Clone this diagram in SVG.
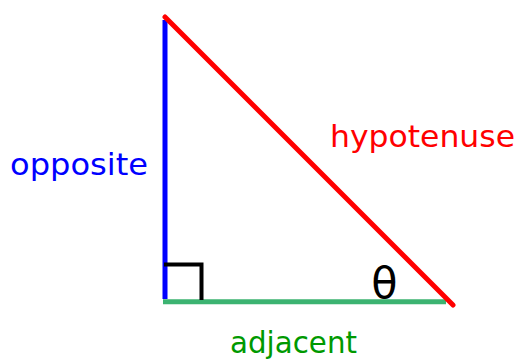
<svg xmlns="http://www.w3.org/2000/svg" width="524" height="360" viewBox="0 0 524 360">
<style>
.lbl{font-family:"DejaVu Sans","Liberation Sans",sans-serif;font-size:31px}
.side{stroke-width:5;fill:none}
</style>
<rect width="524" height="360" fill="#fff"/>
<g id="connectors">
<line id="opposite-side" class="side" x1="165" y1="20" x2="165" y2="299" stroke="#0000ff"/>
<line id="adjacent-side" class="side" x1="163" y1="301.8" x2="446" y2="301.8" stroke="#3cb371"/>
<line id="hypotenuse-side" class="side" x1="165" y1="17" x2="453" y2="305" stroke="#ff0000" stroke-linecap="round"/>
</g>
<g id="right-angle">
<polyline points="164,264.5 201.5,264.5 201.5,300" fill="none" stroke="#000" stroke-width="4"/>
</g>
<g id="theta">
<text x="384.5" y="298" text-anchor="middle" font-family="DejaVu Sans, sans-serif" font-size="43" fill="#000">θ</text>
</g>
<g id="label-opposite">
<text class="lbl" x="10" y="175" fill="#0000ff" textLength="138" lengthAdjust="spacingAndGlyphs">opposite</text>
</g>
<g id="label-hypotenuse">
<text class="lbl" x="330" y="147" fill="#ff0000" textLength="185" lengthAdjust="spacingAndGlyphs">hypotenuse</text>
</g>
<g id="label-adjacent">
<text class="lbl" x="230" y="353" fill="#009900" textLength="127" lengthAdjust="spacingAndGlyphs">adjacent</text>
</g>
</svg>
